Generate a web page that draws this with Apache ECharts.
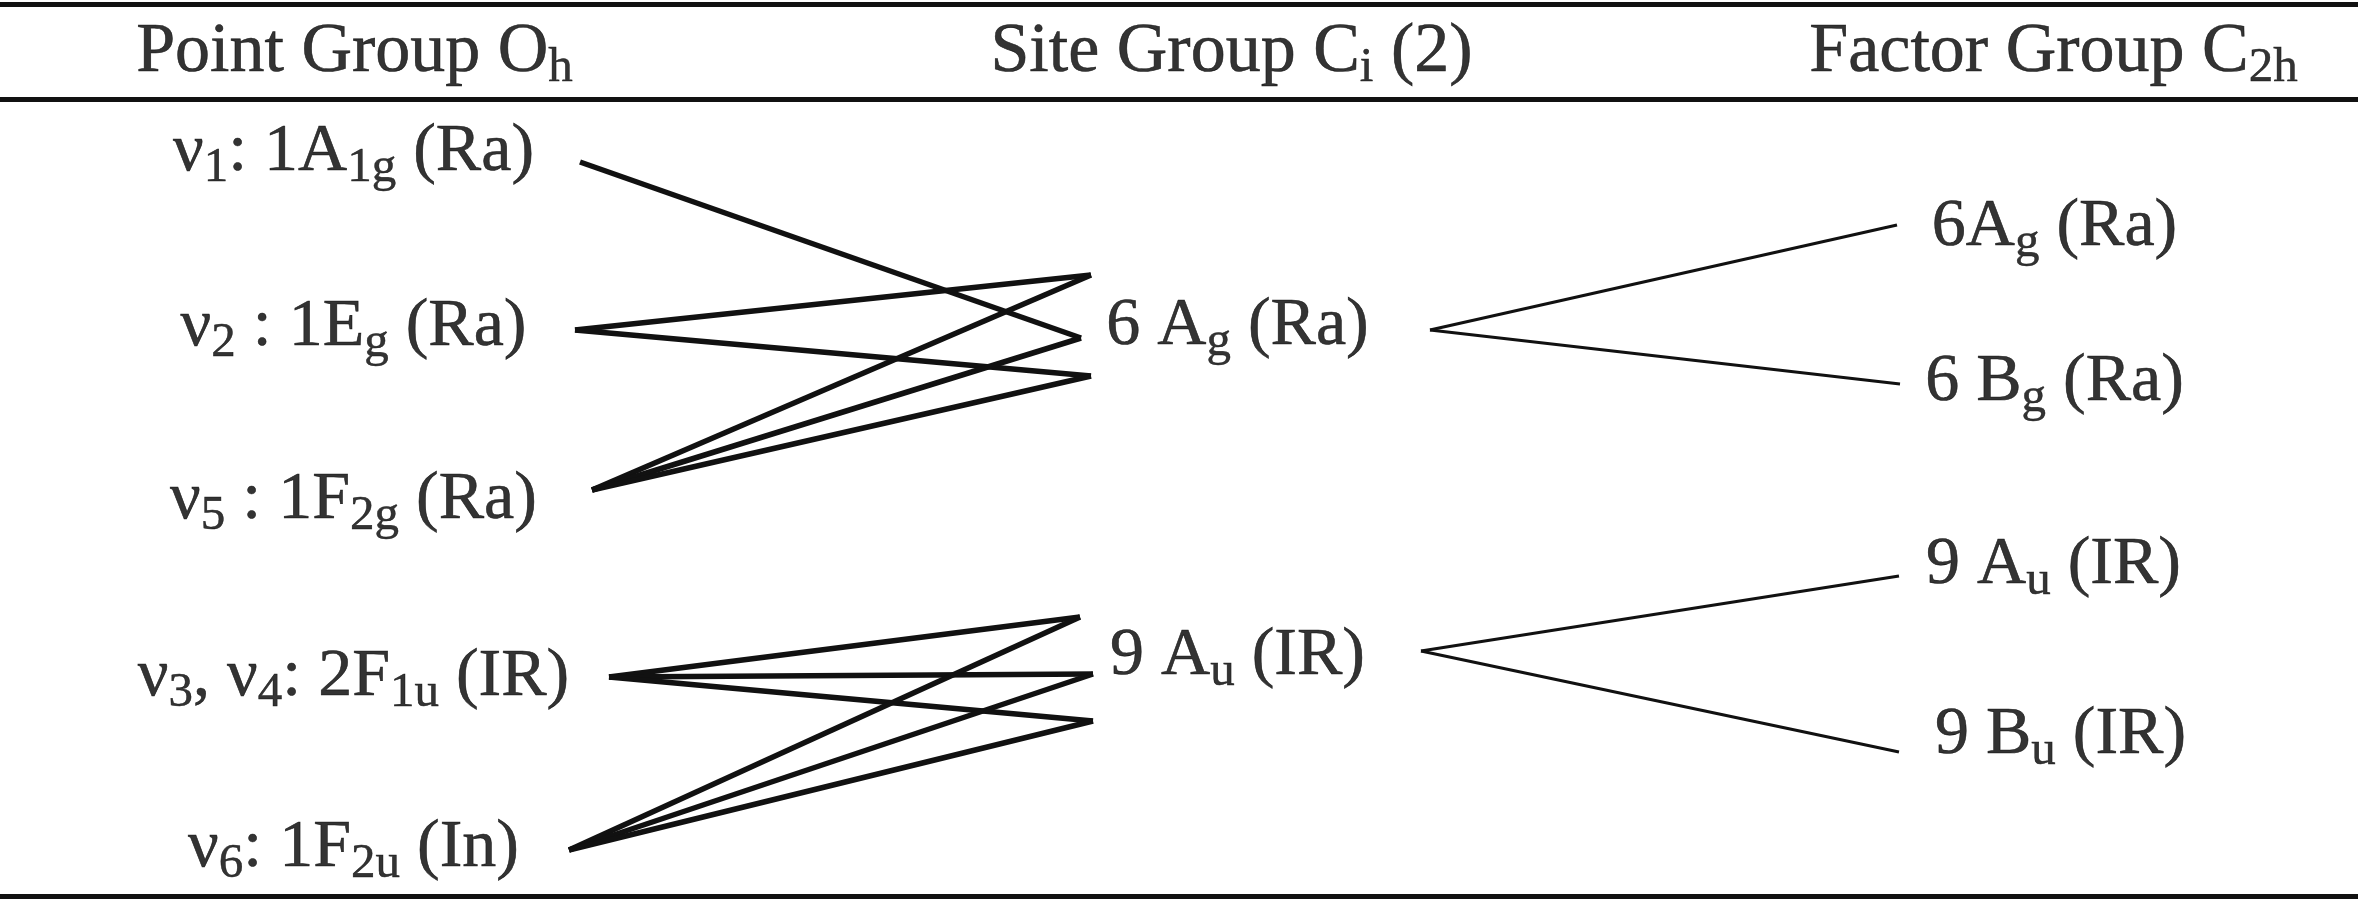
<!DOCTYPE html>
<html>
<head>
<meta charset="utf-8">
<script src="https://cdn.jsdelivr.net/npm/echarts@6/dist/echarts.min.js"></script>
<style>
  html, body { margin: 0; padding: 0; background: #fff; }
  #chart { width: 2358px; height: 900px; }
</style>
</head>
<body>
<div id="chart"></div>
<script>
// diagram units: x 0..2358, y 0..900 (top to bottom)
const headerText = ['Point Group O{s|h}', 'Site Group C{s|i} (2)', 'Factor Group C{s|2h}'];
const headerX = [355, 1232, 2054];
const headerBaseline = 72;
const ruleY = [4, 99, 896];

const pointGroupLabels = [
  'ν{s|1}: 1A{s|1g} (Ra)',
  'ν{s|2} : 1E{s|g} (Ra)',
  'ν{s|5} : 1F{s|2g} (Ra)',
  'ν{s|3}, ν{s|4}: 2F{s|1u} (IR)',
  'ν{s|6}: 1F{s|2u} (In)'
];
const pointGroupX = 354;
const pointGroupBaselines = [172, 347, 520, 697, 868];
const pointGroupEnds = [[580, 162], [575, 330], [592, 490], [609, 677], [569, 850]];

const siteLabels = ['6 A{s|g} (Ra)', '9 A{s|u} (IR)'];
const siteX = 1238;
const siteBaselines = [346, 676];
const siteInPoints = [
  [[1091, 275], [1081, 338], [1091, 376]],
  [[1080, 617], [1093, 674], [1093, 721]]
];
const siteOutPoints = [[1430, 330], [1421, 651]];

// [point group row, site row, site slot]
const correlations = [
  [0, 0, 1],
  [1, 0, 0], [1, 0, 2],
  [2, 0, 0], [2, 0, 1], [2, 0, 2],
  [3, 1, 0], [3, 1, 1], [3, 1, 2],
  [4, 1, 0], [4, 1, 1], [4, 1, 2]
];

const factorLabels = ['6A{s|g} (Ra)', '6 B{s|g} (Ra)', '9 A{s|u} (IR)', '9 B{s|u} (IR)'];
const factorX = [2055, 2055, 2054, 2061];
const factorBaselines = [247, 402, 585, 755];
const factorEnds = [[1897, 225], [1900, 384], [1899, 576], [1899, 752]];
const factorSite = [0, 0, 1, 1];

const ink = '#000';
const fontFamily = '"Liberation Serif", "Times New Roman", serif';

const chart = echarts.init(document.getElementById('chart'));

function labelSeries(name, texts, xs, baselines, size) {
  return {
    name: name,
    type: 'scatter',
    symbolSize: 1,
    itemStyle: { color: 'rgba(0,0,0,0)' },
    silent: true,
    data: texts.map((t, i) => ({
      value: [Array.isArray(xs) ? xs[i] : xs, baselines[i]],
      text: t
    })),
    label: {
      show: true,
      position: [0, 0],
      align: 'center',
      verticalAlign: 'middle',
      offset: [0, -19],
      formatter: p => p.data.text,
      fontFamily: fontFamily,
      fontSize: size,
      lineHeight: 80,
      color: ink,
      textBorderColor: ink,
      textBorderWidth: 0.6,
      rich: {
        s: {
          fontFamily: fontFamily,
          fontSize: 49,
          lineHeight: 38,
          verticalAlign: 'bottom',
          color: ink,
          textBorderColor: ink,
          textBorderWidth: 0.5
        }
      }
    }
  };
}

const leftLines = correlations.map(c => ({
  coords: [pointGroupEnds[c[0]], siteInPoints[c[1]][c[2]]]
}));
const rightLines = factorEnds.map((end, i) => ({
  coords: [siteOutPoints[factorSite[i]], end]
}));
const rules = ruleY.map(y => ({ coords: [[0, y], [2358, y]] }));

const option = {
  animation: false,
  backgroundColor: '#fff',
  grid: { left: 0, right: 0, top: 0, bottom: 0 },
  xAxis: { type: 'value', min: 0, max: 2358, show: false },
  yAxis: { type: 'value', min: 0, max: 900, inverse: true, show: false },
  series: [
    {
      name: 'rules',
      type: 'lines',
      coordinateSystem: 'cartesian2d',
      silent: true,
      lineStyle: { color: '#111', width: 5, opacity: 1 },
      data: rules
    },
    {
      name: 'point to site',
      type: 'lines',
      coordinateSystem: 'cartesian2d',
      silent: true,
      lineStyle: { color: '#111', width: 5.5, opacity: 1 },
      data: leftLines
    },
    {
      name: 'site to factor',
      type: 'lines',
      coordinateSystem: 'cartesian2d',
      silent: true,
      lineStyle: { color: '#111', width: 3.2, opacity: 1 },
      data: rightLines
    },
    labelSeries('headers', headerText, headerX, headerText.map(() => headerBaseline), 70),
    labelSeries('point group', pointGroupLabels, pointGroupX, pointGroupBaselines, 68),
    labelSeries('site group', siteLabels, siteX, siteBaselines, 68),
    labelSeries('factor group', factorLabels, factorX, factorBaselines, 68)
  ]
};

chart.setOption(option);
</script>
</body>
</html>
